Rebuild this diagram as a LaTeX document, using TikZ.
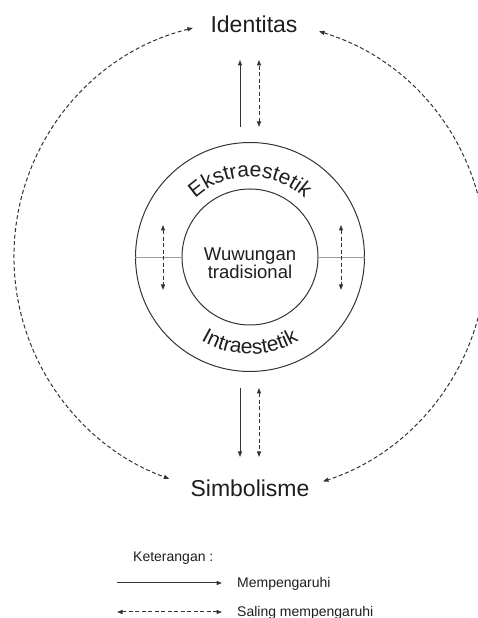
\documentclass[tikz,border=0pt]{standalone}
\usepackage{fontspec}
\setmainfont{Liberation Sans}
\usetikzlibrary{arrows.meta,decorations.text,calc}
\definecolor{ink}{HTML}{1E1E1E}
\definecolor{linegray}{HTML}{333333}
\definecolor{faint}{HTML}{9C9C9C}
\newcommand\myarcfont{\fontsize{21}{21}\selectfont}
\begin{document}
\begin{tikzpicture}[x=1pt,y=1pt,
  tip/.style={-{Triangle[length=5.5pt,width=4pt]}},
  dtip/.style={{Triangle[length=5.5pt,width=4pt]}-{Triangle[length=5.5pt,width=4pt]}},
  ring/.style={draw=linegray, line width=1pt, circle, inner sep=0pt},
  solidarrow/.style={draw=linegray, line width=1pt, tip},
  dasharrow/.style={draw=linegray, line width=1pt, dash pattern=on 4pt off 2.5pt, dtip},
  bigtext/.style={font=\fontsize{23}{23}\selectfont, text=ink, inner sep=0pt, anchor=base},
  midtext/.style={font=\fontsize{18.5}{18.5}\selectfont, text=ink, inner sep=0pt, anchor=base},
  legtext/.style={font=\fontsize{14}{14}\selectfont, text=ink, inner sep=0pt, anchor=base west},
  divider/.style={draw=faint, line width=0.6pt}
]
\useasboundingbox (0,0) rectangle (478,618);
\clip (0,0) rectangle (478,618);

\coordinate (C) at (250,361);
\node[ring, minimum size=229pt] (outer) at (C) {};
\node[ring, minimum size=136pt] (inner) at (C) {};
\node[midtext] (wuw1) at (250,357) {Wuwungan};
\node[midtext] (wuw2) at (250,339) {tradisional};

\draw[divider] (outer.west) -- (inner.west);
\draw[divider] (inner.east) -- (outer.east);

% curved labels
\path[decorate, decoration={text along path, text={|\myarcfont\color{ink}|Ekstraestetik}, text align=center}]
  ($(C)+(150:80)$) arc[start angle=150, end angle=30, radius=80];
\path[decorate, decoration={text along path, text={|\myarcfont\color{ink}|Intraestetik}, text align=center}]
  ($(C)+(210:97)$) arc[start angle=210, end angle=330, radius=97];

% ring arrows
\coordinate (rl1) at (163,393); \coordinate (rl2) at (163,328);
\coordinate (rr1) at (341,393); \coordinate (rr2) at (341,328);
\draw[dasharrow] (rl1) -- (rl2);
\draw[dasharrow] (rr1) -- (rr2);

% outer nodes
\node[bigtext] (idn) at (254,585) {Identitas};
\node[bigtext] (sim) at (250,121) {Simbolisme};

% top arrows
\coordinate (t1) at (240,491); \coordinate (t2) at (240,558);
\coordinate (t3) at (259,491); \coordinate (t4) at (259,558);
\draw[solidarrow] (t1) -- (t2);
\draw[dasharrow] (t3) -- (t4);

% bottom arrows
\coordinate (b1) at (240,230); \coordinate (b2) at (240,161);
\coordinate (b3) at (259,230); \coordinate (b4) at (259,161);
\draw[solidarrow] (b1) -- (b2);
\draw[dasharrow] (b3) -- (b4);

% big arcs
\coordinate (la) at ($(C)+(104:236)$);
\coordinate (ra) at ($(C)+(73:236)$);
\draw[dasharrow] (la) arc[start angle=104, end angle=250, radius=236];
\draw[dasharrow] (ra) arc[start angle=73, end angle=-72, radius=236];

% legend
\node[legtext] (ket) at (133,56) {Keterangan :};
\coordinate (s1) at (117,35); \coordinate (s2) at (222,35);
\coordinate (d1) at (117,6);  \coordinate (d2) at (222,6);
\draw[solidarrow] (s1) -- (s2);
\draw[dasharrow] (d1) -- (d2);
\node[legtext] (m1) at (237,30) {Mempengaruhi};
\node[legtext] (m2) at (237,1.5) {Saling mempengaruhi};
\end{tikzpicture}
\end{document}
